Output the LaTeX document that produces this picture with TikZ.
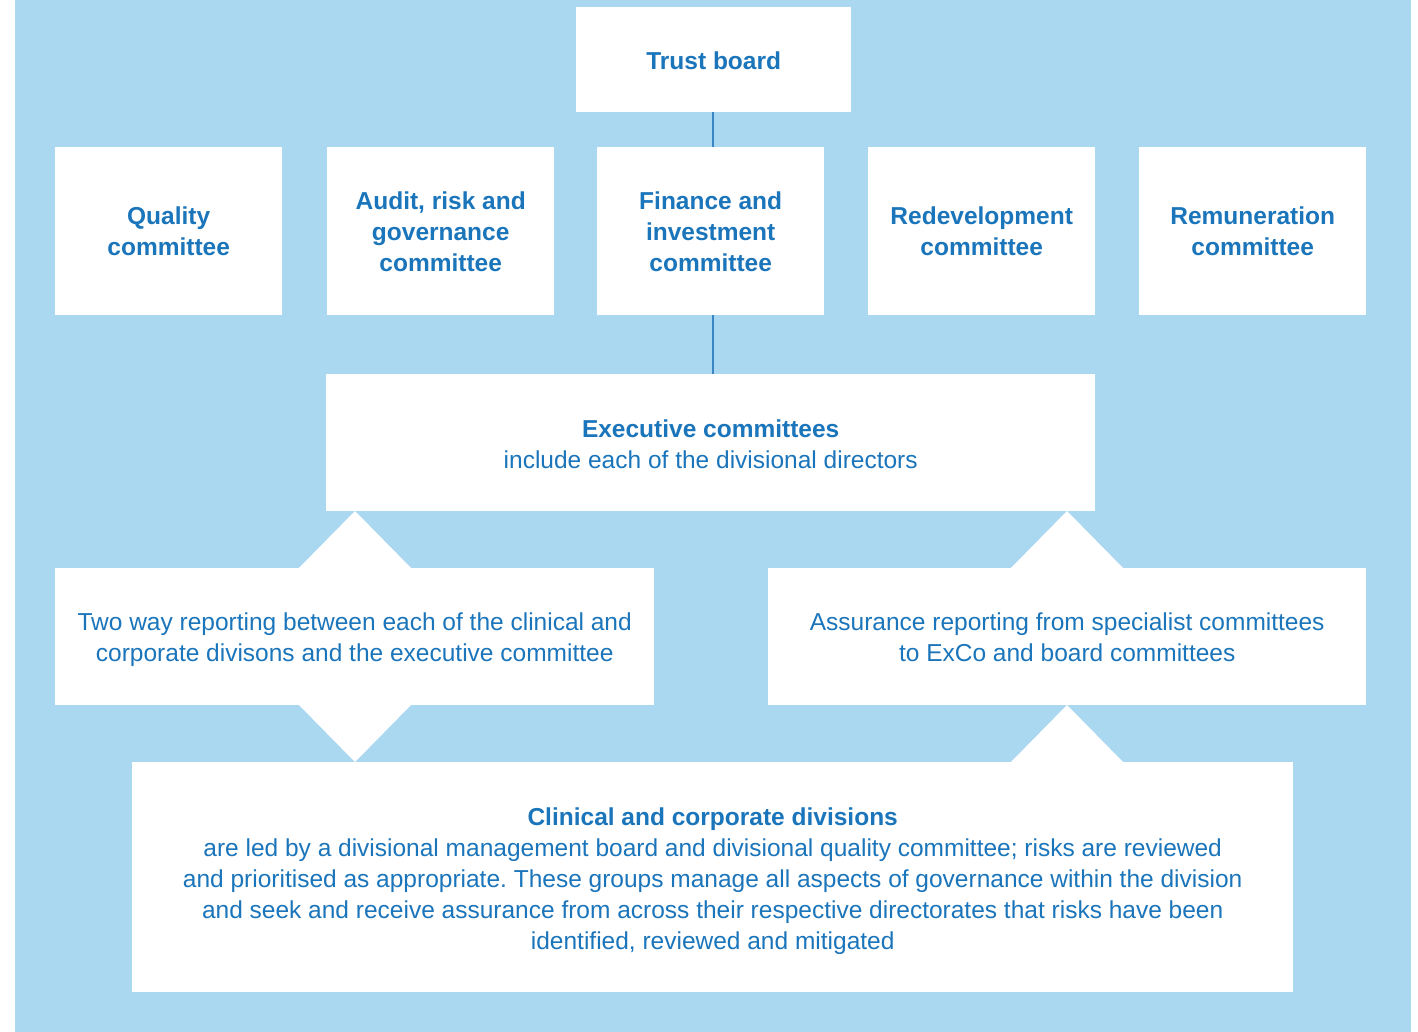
\documentclass[tikz,border=0pt]{standalone}
\usepackage{fontspec}
\setmainfont{Liberation Sans}
\frenchspacing
\definecolor{bg}{HTML}{ABD8F1}
\definecolor{txt}{HTML}{1B75BB}
\definecolor{ln}{HTML}{3A86C4}
\begin{document}
\begin{tikzpicture}[x=1pt,y=-1pt,
  box/.style={fill=white,draw=none,inner sep=0pt,anchor=north west,text=txt,align=center,
    font=\fontsize{24.5}{31}\selectfont},
  lbl/.style={text=txt,align=center,inner sep=0pt,font=\fontsize{24.5}{31}\selectfont\frenchspacing},
  conn/.style={draw=ln,line width=1.5pt}]
\useasboundingbox (0,0) rectangle (1418,1032);
\fill[white] (0,0) rectangle (1418,1032);
\fill[bg] (15,0) rectangle (1411,1032);
\coordinate (c1) at (713,112);
\node[box,minimum width=275,minimum height=105] (tb) at (576,7) {};
\node[box,minimum width=227,minimum height=168] (q) at (55,147) {};
\node[box,minimum width=227,minimum height=168] (a) at (327,147) {};
\node[box,minimum width=227,minimum height=168] (f) at (597,147) {};
\node[box,minimum width=227,minimum height=168] (r) at (868,147) {};
\node[box,minimum width=227,minimum height=168] (rem) at (1139,147) {};
\node[box,minimum width=769,minimum height=137] (ex) at (326,374) {};
\node[box,minimum width=599,minimum height=137] (lt) at (55,568) {};
\node[box,minimum width=598,minimum height=137] (rt) at (768,568) {};
\node[box,minimum width=1161,minimum height=230] (dv) at (132,762) {};
% labels
\node[lbl] (tbl) at ([yshift=-1.5]tb.center) {\textbf{Trust board}};
\node[lbl] (ql) at ([yshift=-0.5]q.center) {\textbf{Quality}\\\textbf{committee}};
\node[lbl] (al) at ([yshift=-1]a.center) {\textbf{Audit, risk and}\\\textbf{governance}\\\textbf{committee}};
\node[lbl] (fl) at ([yshift=-1]f.center) {\textbf{Finance and}\\\textbf{investment}\\\textbf{committee}};
\node[lbl] (rl) at ([yshift=-0.5]r.center) {\textbf{Redevelopment}\\\textbf{committee}};
\node[lbl] (reml) at ([yshift=-0.5]rem.center) {\textbf{Remuneration}\\\textbf{committee}};
\node[lbl] (exl) at ([yshift=-1.5]ex.center) {\textbf{Executive committees}\\include each of the divisional directors};
\node[lbl] (ltl) at ([yshift=-3]lt.center) {Two way reporting between each of the clinical and\\corporate divisons and the executive committee};
\node[lbl] (rtl) at ([yshift=-1]rt.center) {Assurance reporting from specialist committees\\to ExCo and board committees};
\node[lbl] (dvl) at ([yshift=-4]dv.center) {\textbf{Clinical and corporate divisions}\\are led by a divisional management board and divisional quality committee; risks are reviewed\\and prioritised as appropriate. These groups manage all aspects of governance within the division\\and seek and receive assurance from across their respective directorates that risks have been\\identified, reviewed and mitigated};
% triangles
\fill[white] (298,569) -- (355,511) -- (412,569) -- cycle;
\fill[white] (298,704) -- (355,762) -- (412,704) -- cycle;
\fill[white] (1010,569) -- (1067,511) -- (1124,569) -- cycle;
\fill[white] (1010,763) -- (1067,705) -- (1124,763) -- cycle;
% connectors
\draw[conn] (tb.south -| c1) -- (f.north -| c1);
\draw[conn] (f.south -| c1) -- (ex.north -| c1);
\end{tikzpicture}
\end{document}
